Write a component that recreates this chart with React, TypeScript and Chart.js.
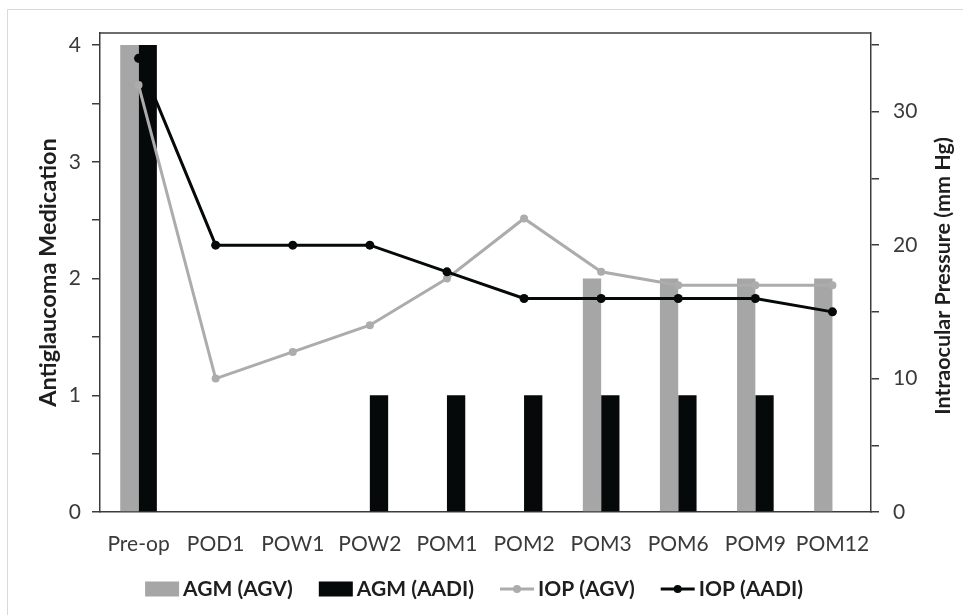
import React, { useEffect, useRef } from "react";
import { Chart, registerables } from "chart.js";

Chart.register(...registerables);

const categories = ["Pre-op", "POD1", "POW1", "POW2", "POM1", "POM2", "POM3", "POM6", "POM9", "POM12"];
const agmAgv = [4, 0, 0, 0, 0, 0, 2, 2, 2, 2];
const agmAadi = [4, 0, 0, 1, 1, 1, 1, 1, 1, 0];
const iopAgv = [32, 10, 12, 14, 17.5, 22, 18, 17, 17, 17];
const iopAadi = [34, 20, 20, 20, 18, 16, 16, 16, 16, 15];
const leftTicks = [0, 0.5, 1, 1.5, 2, 2.5, 3, 3.5, 4];
const rightTicks = [0, 5, 10, 15, 20, 25, 30, 35];
const leftTitle = "Antiglaucoma Medication";
const rightTitle = "Intraocular Pressure (mm Hg)";

const GRAY = "#a6a6a6";
const LINE_GRAY = "#acacac";
const BLACK = "#060909";
const AXIS = "#3c3c3c";
const TEXT = "#3a3a3a";
const TITLE = "#1e1e1e";
const FONT = "Lato";

const framePlugin = {
  id: "frame",
  beforeDraw(chart: any) {
    const ctx = chart.ctx;
    ctx.save();
    ctx.strokeStyle = "#d9d9d9";
    ctx.lineWidth = 1;
    ctx.beginPath();
    ctx.moveTo(7.5, 615);
    ctx.lineTo(7.5, 9.5);
    ctx.lineTo(963, 9.5);
    ctx.stroke();
    ctx.restore();
  },
  afterDraw(chart: any) {
    const { ctx, chartArea } = chart;
    ctx.save();
    ctx.strokeStyle = AXIS;
    ctx.lineWidth = 1.5;
    ctx.beginPath();
    ctx.moveTo(chartArea.left, chartArea.top);
    ctx.lineTo(chartArea.right, chartArea.top);
    ctx.stroke();

    // right axis title, reading bottom to top
    ctx.save();
    ctx.translate(943, 276);
    ctx.rotate(-Math.PI / 2);
    ctx.font = `bold 21.5px ${FONT}`;
    ctx.fillStyle = TITLE;
    ctx.textAlign = "center";
    ctx.textBaseline = "middle";
    ctx.fillText(rightTitle, 0, 0);
    ctx.restore();

    // legend
    ctx.font = `bold 21px ${FONT}`;
    ctx.textBaseline = "middle";
    ctx.textAlign = "left";
    const ds = chart.data.datasets;
    const symW = 34;
    const gapText = 4;
    const gapItem = 26;
    const widths = ds.map((d: any) => ctx.measureText(d.label).width);
    let total = 0;
    widths.forEach((w: number) => (total += symW + gapText + w));
    total += gapItem * (ds.length - 1);
    let x = 474 - total / 2;
    const y = 589;
    ds.forEach((d: any, i: number) => {
      if (d.type === "line") {
        ctx.strokeStyle = d.borderColor;
        ctx.lineWidth = 3;
        ctx.beginPath();
        ctx.moveTo(x, y);
        ctx.lineTo(x + symW, y);
        ctx.stroke();
        ctx.fillStyle = d.pointBackgroundColor;
        ctx.beginPath();
        ctx.arc(x + symW / 2, y, 4, 0, Math.PI * 2);
        ctx.fill();
      } else {
        ctx.fillStyle = d.backgroundColor;
        ctx.fillRect(x, y - 7.5, symW, 15);
      }
      ctx.fillStyle = TITLE;
      ctx.fillText(d.label, x + symW + gapText, y);
      x += symW + gapText + widths[i] + gapItem;
    });
    ctx.restore();
  },
};

export default function App() {
  const ref = useRef<HTMLCanvasElement | null>(null);
  useEffect(() => {
    if (!ref.current) return;
    const chart = new Chart(ref.current, {
      type: "bar",
      data: {
        labels: categories,
        datasets: [
          {
            type: "bar",
            label: "AGM (AGV)",
            data: agmAgv,
            backgroundColor: GRAY,
            yAxisID: "y",
            order: 2,
            categoryPercentage: 0.475,
            barPercentage: 1,
          },
          {
            type: "bar",
            label: "AGM (AADI)",
            data: agmAadi,
            backgroundColor: BLACK,
            yAxisID: "y",
            order: 2,
            categoryPercentage: 0.475,
            barPercentage: 1,
          },
          {
            type: "line",
            label: "IOP (AGV)",
            data: iopAgv,
            borderColor: LINE_GRAY,
            pointBackgroundColor: LINE_GRAY,
            pointBorderColor: LINE_GRAY,
            borderWidth: 3,
            pointRadius: 4,
            pointBorderWidth: 0,
            yAxisID: "y1",
            order: 1,
          },
          {
            type: "line",
            label: "IOP (AADI)",
            data: iopAadi,
            borderColor: BLACK,
            pointBackgroundColor: BLACK,
            pointBorderColor: BLACK,
            borderWidth: 3,
            pointRadius: 4.5,
            pointBorderWidth: 0,
            yAxisID: "y1",
            order: 0,
          },
        ] as any,
      },
      options: {
        responsive: false,
        animation: false,
        layout: { padding: { top: 33, bottom: 0, left: 0, right: 0 } },
        plugins: {
          legend: { display: false },
          tooltip: { enabled: false },
        },
        scales: {
          x: {
            offset: true,
            grid: { display: false, drawTicks: false },
            border: { display: true, color: AXIS, width: 1.5 },
            ticks: {
              color: TEXT,
              font: { family: FONT, size: 21 },
              padding: 20,
              maxRotation: 0,
              autoSkip: false,
            },
            afterFit: (s: any) => {
              s.height = 103;
            },
          },
          y: {
            position: "left",
            min: 0,
            max: (4 * (512 - 33)) / (512 - 45),
            afterBuildTicks: (s: any) => {
              s.ticks = leftTicks.map((v) => ({ value: v }));
            },
            ticks: {
              color: TEXT,
              font: { family: FONT, size: 21 },
              padding: 11,
              callback: (v: any) => (Number(v) % 1 === 0 ? String(v) : ""),
            },
            grid: { drawOnChartArea: false, tickLength: 8, color: AXIS, lineWidth: 1.5 },
            border: { display: true, color: AXIS, width: 1.5 },
            title: {
              display: true,
              text: leftTitle,
              color: TITLE,
              font: { family: FONT, size: 23.5, weight: "bold" },
              padding: { top: 34, bottom: 0 },
            },
            afterFit: (s: any) => {
              s.width = 100;
            },
          },
          y1: {
            position: "right",
            min: 0,
            max: (35 * (512 - 33)) / (512 - 45),
            afterBuildTicks: (s: any) => {
              s.ticks = rightTicks.map((v) => ({ value: v }));
            },
            ticks: {
              color: TEXT,
              font: { family: FONT, size: 21 },
              padding: 14,
              callback: (v: any) => (Number(v) % 10 === 0 ? String(v) : ""),
            },
            grid: { drawOnChartArea: false, tickLength: 8, color: AXIS, lineWidth: 1.5 },
            border: { display: true, color: AXIS, width: 1.5 },
            title: { display: false },
            afterFit: (s: any) => {
              s.width = 92;
            },
          },
        },
      },
      plugins: [framePlugin],
    });
    return () => chart.destroy();
  }, []);

  return (
    <div style={{ position: "absolute", left: 0, top: 0, width: 963, height: 615 }}>
      <canvas ref={ref} width={963} height={615} style={{ display: "block" }} />
    </div>
  );
}
